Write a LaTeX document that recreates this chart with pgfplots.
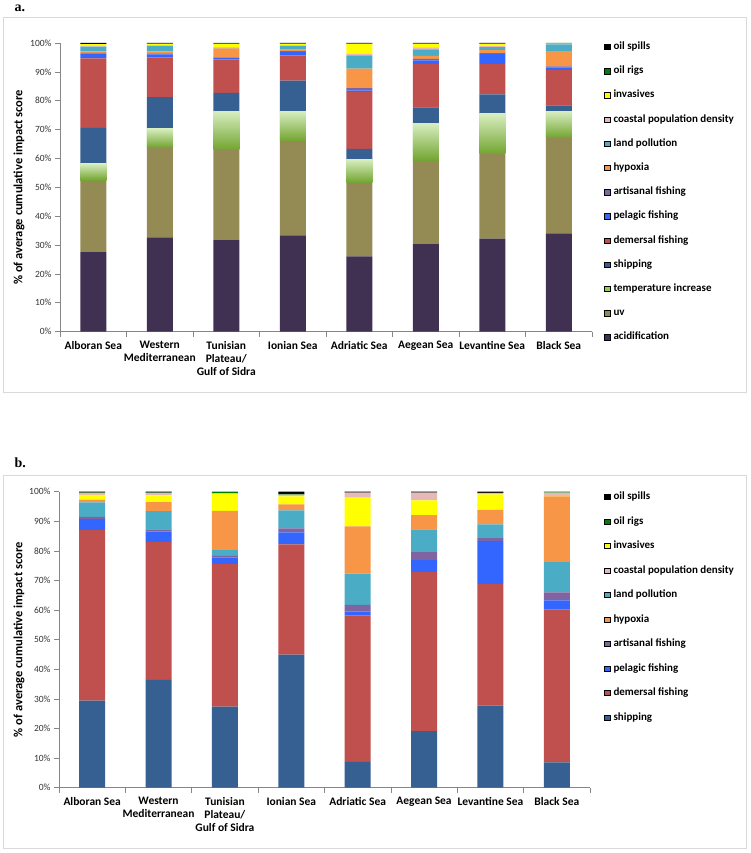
\documentclass[border=0pt]{standalone}
\usepackage{fontspec}
\setmainfont{Carlito}
\newfontfamily\serifb{Liberation Serif}
\usepackage{pgfplots}
\usepackage{pgfplotstable}
\pgfplotsset{compat=1.18}

\definecolor{cAcid}{HTML}{403152}
\definecolor{cUV}{HTML}{948A54}
\definecolor{cTemp}{HTML}{92D050}
\definecolor{cTempTop}{HTML}{D8EEC0}
\definecolor{cTempBot}{HTML}{74A532}
\definecolor{cShip}{HTML}{376092}
\definecolor{cDem}{HTML}{C0504D}
\definecolor{cPel}{HTML}{3366FF}
\definecolor{cArt}{HTML}{8064A2}
\definecolor{cHyp}{HTML}{F79646}
\definecolor{cLand}{HTML}{4BACC6}
\definecolor{cCoast}{HTML}{E6B9B8}
\definecolor{cInv}{HTML}{FFFF00}
\definecolor{cRig}{HTML}{008000}
\definecolor{cSpill}{HTML}{000000}
\definecolor{cAxis}{HTML}{868686}
\definecolor{cFrame}{HTML}{D9D9D9}

% panel a: stacking order bottom to top
\pgfplotstableread{
x acid uv temp ship dem pel art hyp land coast inv rig spill
0 27.7 24.8 5.7 12.4 24.1 1.6 0.3 0.5 1.6 0.4 0.5 0.1 0.3
1 32.6 31.3 6.5 10.8 13.8 1.1 0.3 0.7 1.9 0.2 0.5 0.1 0.2
2 31.7 31.4 13.3 6.3 11.6 0.5 0.2 3.1 0.2 0.2 1.2 0.3 0.0
3 33.3 32.9 10.2 10.6 8.7 1.2 0.3 0.5 1.3 0.2 0.5 0.05 0.25
4 26.0 25.7 8.0 3.6 19.7 0.6 0.8 6.7 4.6 0.5 3.5 0.1 0.2
5 30.3 29.1 12.8 5.5 15.1 1.2 0.5 1.0 2.3 0.7 1.2 0.1 0.2
6 32.2 29.4 13.9 6.7 10.5 3.5 0.3 1.0 1.1 0.3 0.8 0.1 0.2
7 34.0 33.2 9.2 2.0 12.2 0.9 0.4 5.3 2.3 0.2 0.1 0.2 0.0
}\tableA

% panel b: stacking order bottom to top
\pgfplotstableread{
x ship dem pel art land hyp inv coast rig spill
0 29.4 57.6 3.7 0.8 4.9 0.9 1.6 0.7 0.1 0.3
1 36.4 46.6 3.5 0.8 6.1 3.1 2.3 0.8 0.1 0.3
2 27.4 48.2 2.1 0.6 2.0 13.2 5.7 0.3 0.5 0.0
3 45.0 37.2 4.1 1.3 6.1 2.0 2.7 0.6 0.3 0.7
4 8.7 49.4 1.4 2.3 10.5 16.0 9.7 1.7 0.0 0.3
5 19.1 53.8 4.0 2.7 7.7 4.8 5.0 2.6 0.0 0.3
6 27.7 41.2 14.5 0.9 4.7 4.9 5.2 0.5 0.0 0.4
7 8.6 51.6 3.1 2.7 10.2 22.2 0.1 1.2 0.3 0.0
}\tableB

\pgfplotsset{
  myaxis/.style={
    scale only axis,
    ybar stacked,
    bar width=26pt,
    xmin=-0.5, xmax=7.5,
    ymin=0, ymax=100,
    axis y line*=left,
    axis x line*=bottom,
    axis line style={draw=cAxis, line width=0.6pt},
    tick style={draw=cAxis, line width=0.6pt},
    tick align=outside,
    major tick length=5pt,
    ytick={0,10,...,100},
    yticklabel={\pgfmathprintnumber{\tick}\%},
    /pgf/number format/assume math mode=true,
    yticklabel style={font=\fontsize{9.5}{11}\selectfont, text=black!80},
    xtick={-0.5,0.5,...,7.5},
    xticklabels={},
    extra x ticks={0,1,2,3,4,5,6,7},
    extra x tick labels={Alboran Sea,{Western\\Mediterranean},{Tunisian\\Plateau/\\Gulf of Sidra},Ionian Sea,Adriatic Sea,Aegean Sea,Levantine Sea,Black Sea},
    extra x tick style={major tick length=0pt},
    xticklabel style={font=\bfseries\fontsize{11.5}{13}\selectfont, align=center, yshift=-6pt},
    ylabel={\% of average cumulative impact score},
    ylabel style={font=\bfseries\fontsize{12.5}{14}\selectfont, anchor=center},
    legend image code/.code={\fill[#1] (0pt,-2.7pt) rectangle (5.4pt,2.7pt);},
    legend cell align=left,
    legend style={draw=none, fill=none, anchor=north west, inner sep=0pt,
      font=\bfseries\fontsize{11}{12}\selectfont,
      row sep=14.8pt, column sep=3.5pt,
      nodes={inner sep=0pt, text height=7.4pt, text depth=2pt}},
  },
  seg/.style={draw=none, fill=#1, forget plot},
  grad/.style={draw=none, top color=cTempTop, bottom color=cTempBot, forget plot},
}

\begin{document}
\begin{tikzpicture}[x=1pt,y=1pt]
\path[use as bounding box] (0,0) rectangle (750,-853);
\draw[cFrame, line width=0.8pt] (3.5,-17.5) rectangle (746.5,-392);
\draw[cFrame, line width=0.8pt] (3.5,-475) rectangle (746.5,-848);
\node[font=\serifb\bfseries\fontsize{14}{14}\selectfont, anchor=base west, inner sep=0pt] at (14.5pt,-11.5pt) {a.};
\node[font=\serifb\bfseries\fontsize{14}{14}\selectfont, anchor=base west, inner sep=0pt] at (14.5pt,-467.5pt) {b.};

\begin{axis}[myaxis, at={(60pt,-331.5pt)}, anchor=south west, width=532pt, height=288.5pt,
  ylabel style={at={(axis description cs:-0.0771,0.5)}},
  legend style={at={(axis description cs:1.0226,1.0035)}}]
\addlegendimage{fill=cSpill}\addlegendentry{oil spills}
\addlegendimage{fill=cRig}\addlegendentry{oil rigs}
\addlegendimage{fill=cInv}\addlegendentry{invasives}
\addlegendimage{fill=cCoast}\addlegendentry{coastal population density}
\addlegendimage{fill=cLand}\addlegendentry{land pollution}
\addlegendimage{fill=cHyp}\addlegendentry{hypoxia}
\addlegendimage{fill=cArt}\addlegendentry{artisanal fishing}
\addlegendimage{fill=cPel}\addlegendentry{pelagic fishing}
\addlegendimage{fill=cDem}\addlegendentry{demersal fishing}
\addlegendimage{fill=cShip}\addlegendentry{shipping}
\addlegendimage{fill=cTemp}\addlegendentry{temperature increase}
\addlegendimage{fill=cUV}\addlegendentry{uv}
\addlegendimage{fill=cAcid}\addlegendentry{acidification}
\addplot[seg=cAcid] table[x=x,y=acid]{\tableA};
\addplot[seg=cUV] table[x=x,y=uv]{\tableA};
\addplot[seg=cTemp] table[x=x,y=temp]{\tableA};
\addplot[seg=cShip] table[x=x,y=ship]{\tableA};
\addplot[seg=cDem] table[x=x,y=dem]{\tableA};
\addplot[seg=cPel] table[x=x,y=pel]{\tableA};
\addplot[seg=cArt] table[x=x,y=art]{\tableA};
\addplot[seg=cHyp] table[x=x,y=hyp]{\tableA};
\addplot[seg=cLand] table[x=x,y=land]{\tableA};
\addplot[seg=cCoast] table[x=x,y=coast]{\tableA};
\addplot[seg=cInv] table[x=x,y=inv]{\tableA};
\addplot[seg=cRig] table[x=x,y=rig]{\tableA};
\addplot[seg=cSpill] table[x=x,y=spill]{\tableA};
\end{axis}

% overlay: gradient shading of the temperature increase segments (panel a)
\begin{axis}[scale only axis, at={(60pt,-331.5pt)}, anchor=south west, width=532pt, height=288.5pt,
  xmin=-0.5, xmax=7.5, ymin=0, ymax=100, hide axis]
\addplot[grad] coordinates {(-0.1955,52.5) (0.1955,52.5) (0.1955,58.2) (-0.1955,58.2)} -- cycle;
\addplot[grad] coordinates {(0.8045,63.9) (1.1955,63.9) (1.1955,70.4) (0.8045,70.4)} -- cycle;
\addplot[grad] coordinates {(1.8045,63.1) (2.1955,63.1) (2.1955,76.4) (1.8045,76.4)} -- cycle;
\addplot[grad] coordinates {(2.8045,66.2) (3.1955,66.2) (3.1955,76.4) (2.8045,76.4)} -- cycle;
\addplot[grad] coordinates {(3.8045,51.7) (4.1955,51.7) (4.1955,59.7) (3.8045,59.7)} -- cycle;
\addplot[grad] coordinates {(4.8045,59.4) (5.1955,59.4) (5.1955,72.2) (4.8045,72.2)} -- cycle;
\addplot[grad] coordinates {(5.8045,61.6) (6.1955,61.6) (6.1955,75.5) (5.8045,75.5)} -- cycle;
\addplot[grad] coordinates {(6.8045,67.2) (7.1955,67.2) (7.1955,76.4) (6.8045,76.4)} -- cycle;
\end{axis}

\begin{axis}[myaxis, at={(59pt,-787.7pt)}, anchor=south west, width=531pt, height=296pt,
  ylabel style={at={(axis description cs:-0.0753,0.5)}},
  legend style={at={(axis description cs:1.0264,0.999)}, row sep=15.1pt}]
\addlegendimage{fill=cSpill}\addlegendentry{oil spills}
\addlegendimage{fill=cRig}\addlegendentry{oil rigs}
\addlegendimage{fill=cInv}\addlegendentry{invasives}
\addlegendimage{fill=cCoast}\addlegendentry{coastal population density}
\addlegendimage{fill=cLand}\addlegendentry{land pollution}
\addlegendimage{fill=cHyp}\addlegendentry{hypoxia}
\addlegendimage{fill=cArt}\addlegendentry{artisanal fishing}
\addlegendimage{fill=cPel}\addlegendentry{pelagic fishing}
\addlegendimage{fill=cDem}\addlegendentry{demersal fishing}
\addlegendimage{fill=cShip}\addlegendentry{shipping}
\addplot[seg=cShip] table[x=x,y=ship]{\tableB};
\addplot[seg=cDem] table[x=x,y=dem]{\tableB};
\addplot[seg=cPel] table[x=x,y=pel]{\tableB};
\addplot[seg=cArt] table[x=x,y=art]{\tableB};
\addplot[seg=cLand] table[x=x,y=land]{\tableB};
\addplot[seg=cHyp] table[x=x,y=hyp]{\tableB};
\addplot[seg=cInv] table[x=x,y=inv]{\tableB};
\addplot[seg=cCoast] table[x=x,y=coast]{\tableB};
\addplot[seg=cRig] table[x=x,y=rig]{\tableB};
\addplot[seg=cSpill] table[x=x,y=spill]{\tableB};
\end{axis}
\end{tikzpicture}
\end{document}
